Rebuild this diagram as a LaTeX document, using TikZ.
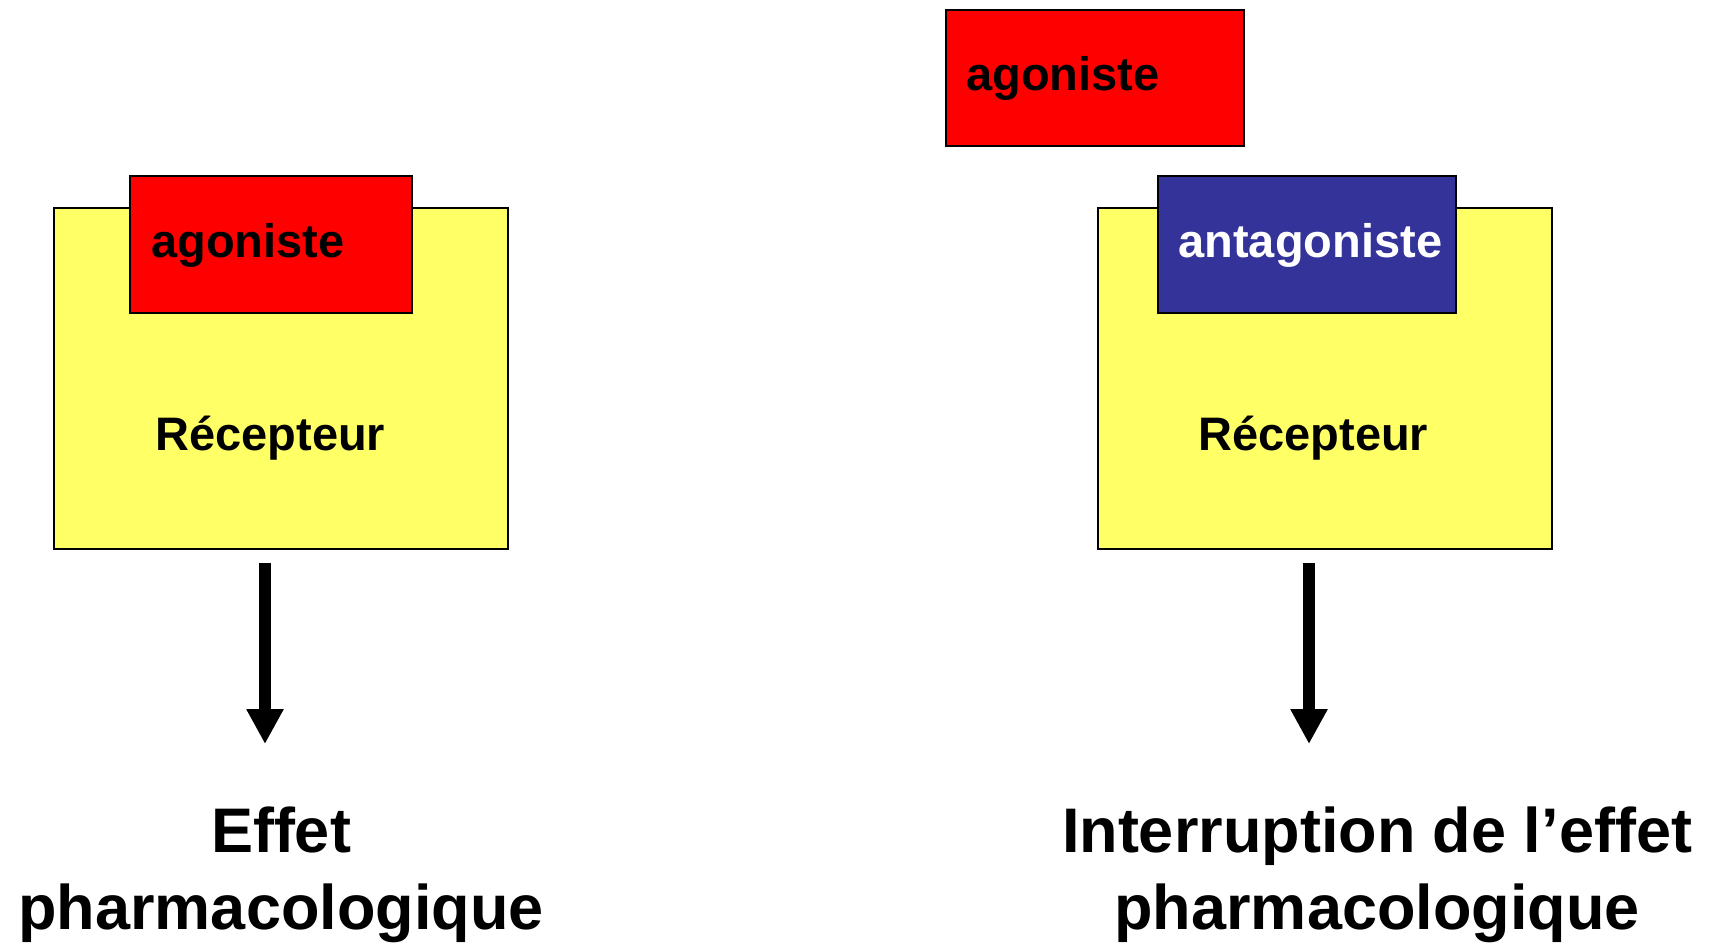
\documentclass[tikz,border=0pt]{standalone}
\usepackage{fontspec}
\setmainfont{Liberation Sans}
\usepackage{xcolor}
\usepackage{tikz}
\usetikzlibrary{arrows.meta}
\definecolor{agored}{HTML}{FF0000}
\definecolor{recyellow}{HTML}{FFFF66}
\definecolor{antablue}{HTML}{333399}

\begin{document}
\begin{tikzpicture}[x=0.5pt, y=-0.5pt,
  box/.style={draw=black, line width=0.8pt, inner sep=0pt, anchor=north west},
  lbl/.style={inner sep=0pt, anchor=base west, font=\fontsize{23.5}{28}\selectfont\bfseries},
  big/.style={inner sep=0pt, anchor=base, align=center, font=\fontsize{31.5}{38.5}\selectfont\bfseries},
  fleche/.style={line width=6pt, -{Triangle[width=17.5pt, length=17.5pt]}}]
  \useasboundingbox (0,0) rectangle (1713,943);
  \clip (0,0) rectangle (1713,943);
  % left: agonist bound to its receptor
  \node[box, fill=recyellow, minimum width=227pt, minimum height=170.5pt] (recL) at (53,207) {};
  \node[box, fill=agored, minimum width=141pt, minimum height=68.5pt] (agoL) at (129,175) {};
  \node[lbl] (agoLtxt) at (151,257) {agoniste};
  \node[lbl] (recLtxt) at (155,450) {Récepteur};
  % right: antagonist takes the site, agonist stays out
  \node[box, fill=recyellow, minimum width=227pt, minimum height=170.5pt] (recR) at (1097,207) {};
  \node[box, fill=antablue, minimum width=149pt, minimum height=68.5pt] (anta) at (1157,175) {};
  \node[lbl, text=white] (antatxt) at (1178,257) {antagoniste};
  \node[lbl] (recRtxt) at (1198,450) {Récepteur};
  \node[box, fill=agored, minimum width=149pt, minimum height=68pt] (agoR) at (945,9) {};
  \node[lbl] (agoRtxt) at (966,90) {agoniste};
  % effects (base anchor sits on the last line)
  \coordinate (flLs) at (265,563);
  \coordinate (flLe) at (265,744);
  \coordinate (flRs) at (1309,563);
  \coordinate (flRe) at (1309,744);
  \draw[fleche] (flLs) -- (flLe);
  \draw[fleche] (flRs) -- (flRe);
  \node[big] (effL) at (281,929) {Effet\\pharmacologique};
  \node[big] (effR) at (1377,929) {Interruption de l’effet\\pharmacologique};
\end{tikzpicture}
\end{document}
